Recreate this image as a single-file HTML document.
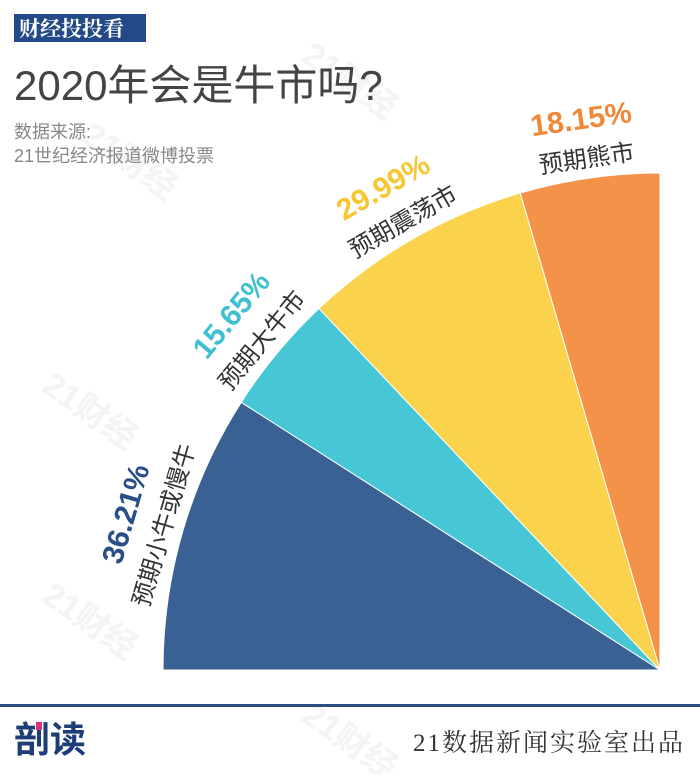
<!DOCTYPE html>
<html><head><meta charset="utf-8"><style>
html,body{margin:0;padding:0;background:#fff;}
body{width:700px;height:774px;overflow:hidden;position:relative;font-family:"Liberation Sans","Noto Sans CJK SC",sans-serif;}
</style></head><body>
<svg id="chart" width="700" height="774" viewBox="0 0 700 774" xmlns="http://www.w3.org/2000/svg">
  <g fill="#f4f4f4" font-family="Liberation Sans, Noto Sans CJK SC, sans-serif" font-size="34" font-weight="bold">
    <text transform="translate(300,60) rotate(35)">21财经</text>
    <text transform="translate(40,390) rotate(35)">21财经</text>
    <text transform="translate(40,600) rotate(35)">21财经</text>
    <text transform="translate(300,720) rotate(35)">21财经</text>
    <text transform="translate(80,140) rotate(35)">21财经</text>
  </g>
  <rect x="14" y="14" width="132" height="28" fill="#234a86"/>
  <text x="19" y="36" fill="#fff" font-size="21" font-weight="bold" font-family="Liberation Serif, Noto Serif CJK SC, serif">财经投投看</text>
  <text x="14" y="100" fill="#444" font-size="42" font-family="Liberation Sans, Noto Sans CJK SC, sans-serif">2020年会是牛市吗?</text>
  <text x="14" y="138" fill="#888" font-size="18" font-family="Liberation Sans, Noto Sans CJK SC, sans-serif">数据来源:</text>
  <text x="14" y="162" fill="#888" font-size="18" font-family="Liberation Sans, Noto Sans CJK SC, sans-serif">21世纪经济报道微博投票</text>
  <g id="slices"></g>
  <g id="labels"></g>
  <rect x="0" y="704" width="700" height="3" fill="#2c4d80"/>
  <text x="14" y="752" fill="#1d3d78" font-size="36" font-weight="bold" font-family="Noto Sans CJK SC, sans-serif">剖读</text>
  <rect x="36" y="722" width="6" height="8" fill="#d8327a"/>
  <text x="685" y="751" text-anchor="end" fill="#333" font-size="25" font-family="Liberation Serif, Noto Serif CJK SC, serif" letter-spacing="2">21数据新闻实验室出品</text>
</svg>
<script>
const categories = ["预期小牛或慢牛", "预期大牛市", "预期震荡市", "预期熊市"];
const values = [36.21, 15.65, 29.99, 18.15];
const valueLabels = ["36.21%", "15.65%", "29.99%", "18.15%"];
const colors = ["#3a6194", "#47c7d5", "#fbd24c", "#f4924a"];
const pctColors = ["#2a4f88", "#3ec0d0", "#f6c633", "#ef8838"];

const cx = 660, cy = 670, R = 497;
const total = values.reduce((a,b)=>a+b,0);
const NS = "http://www.w3.org/2000/svg";
function angleOf(v){ return v/total*90; }
function pt(r, a){ const t=a*Math.PI/180; return [cx - r*Math.cos(t), cy - r*Math.sin(t)]; }

const sg = document.getElementById('slices');
const lg = document.getElementById('labels');
let acc = 0;
values.forEach((v,i)=>{
  const a0 = angleOf(acc), a1 = angleOf(acc+v);
  const p0 = pt(R,a0), p1 = pt(R,a1);
  const path = document.createElementNS(NS,'path');
  path.setAttribute('d', `M${cx},${cy} L${p0[0]},${p0[1]} A${R},${R} 0 0 1 ${p1[0]},${p1[1]} Z`);
  path.setAttribute('fill', colors[i]);
  path.setAttribute('stroke', '#fff');
  path.setAttribute('stroke-width', '1');
  
  
  sg.appendChild(path);

  const mid = (a0+a1)/2;
  const rot = -(90-mid);
  const lp = pt(516, mid);
  const t1 = document.createElementNS(NS,'text');
  t1.setAttribute('transform', `translate(${lp[0]},${lp[1]}) rotate(${rot})`);
  t1.setAttribute('text-anchor','middle');
  t1.setAttribute('dominant-baseline','central');
  t1.setAttribute('font-size','24');
  t1.setAttribute('fill','#333');
  t1.setAttribute('font-family','Liberation Sans, Noto Sans CJK SC, sans-serif');
  t1.textContent = categories[i];
  
  
  lg.appendChild(t1);

  const pp = pt(556, mid);
  const t2 = document.createElementNS(NS,'text');
  t2.setAttribute('transform', `translate(${pp[0]},${pp[1]}) rotate(${rot})`);
  t2.setAttribute('text-anchor','middle');
  t2.setAttribute('dominant-baseline','central');
  t2.setAttribute('font-size','30');
  t2.setAttribute('font-weight','bold');
  t2.setAttribute('fill',pctColors[i]);
  t2.setAttribute('font-family','Liberation Sans, sans-serif');
  t2.textContent = valueLabels[i];
  
  
  lg.appendChild(t2);
  acc += v;
});
</script>
</body></html>
